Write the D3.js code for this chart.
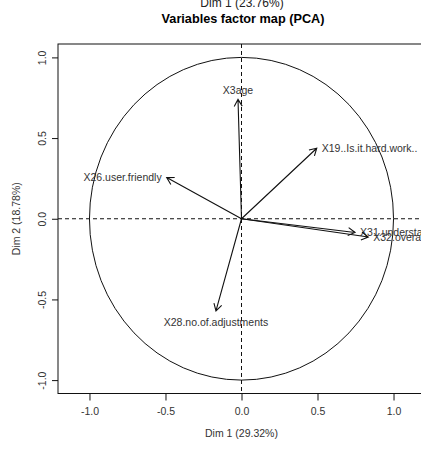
<!DOCTYPE html>
<html><head><meta charset="utf-8">
<script src="https://cdn.jsdelivr.net/npm/d3@7"></script>
<style>body{margin:0;background:#fff;} svg{display:block;font-family:"Liberation Sans",Arial,sans-serif;}</style>
</head><body>
<svg id="c" width="421" height="450"></svg>
<script>
const variables = ["X3age","X19..Is.it.hard.work..","X26.user.friendly","X28.no.of.adjustments","X31.understanding","X32.overall"];
const dim1 = [-0.023, 0.495, -0.492, -0.168, 0.747, 0.834];
const dim2 = [0.740, 0.437, 0.255, -0.571, -0.085, -0.113];
const tickValues = [-1.0, -0.5, 0.0, 0.5, 1.0];
const title = "Variables factor map (PCA)";
const topLabel = "Dim 1 (23.76%)";
const xLabel = "Dim 1 (29.32%)";
const yLabel = "Dim 2 (18.78%)";

const svg = d3.select("#c");
const x = d3.scaleLinear().domain([-1.207, 1.207]).range([58, 425]);
const y = d3.scaleLinear().domain([-1.083, 1.083]).range([393.5, 44]);
const ink = "#111";
const fmt = d => d.toFixed(1);

// clipped top text
svg.append("text").attr("x", 242).attr("y", 7).attr("text-anchor","middle")
  .attr("font-size", 12).attr("fill","#222").text(topLabel);
svg.append("text").attr("x", 243).attr("y", 23).attr("text-anchor","middle")
  .attr("font-size", 12.7).attr("font-weight","bold").attr("fill","#000").text(title);

// box
svg.append("rect").attr("x", x.range()[0]).attr("y", y.range()[1])
  .attr("width", x.range()[1]-x.range()[0]).attr("height", y.range()[0]-y.range()[1])
  .attr("fill","none").attr("stroke", ink).attr("stroke-width",1);

// axes
const xa = svg.append("g").attr("transform",`translate(0,${y.range()[0]})`)
  .call(d3.axisBottom(x).tickValues(tickValues).tickFormat(fmt).tickSize(7).tickPadding(7));
const ya = svg.append("g").attr("transform",`translate(${x.range()[0]},0)`)
  .call(d3.axisLeft(y).tickValues(tickValues).tickFormat(fmt).tickSize(6).tickPadding(0));
[xa, ya].forEach(a => {
  a.select(".domain").remove();
  a.selectAll("line").attr("stroke", ink);
  a.selectAll("text").attr("font-size", 10.5).attr("fill","#333").attr("font-family","Liberation Sans, Arial, sans-serif");
});
ya.selectAll("text").attr("text-anchor","middle").attr("dy", null)
  .attr("x", 0).attr("y", -12).attr("transform", "rotate(-90)");

svg.append("text").attr("x", 241.5).attr("y", 437).attr("text-anchor","middle")
  .attr("font-size", 10.5).attr("fill","#333").text(xLabel);
svg.append("text").attr("transform",`translate(20,${y(0)}) rotate(-90)`).attr("text-anchor","middle")
  .attr("font-size", 10.5).attr("fill","#333").text(yLabel);

// dashed center lines
svg.append("line").attr("x1", x.range()[0]).attr("x2", x.range()[1]).attr("y1", y(0)).attr("y2", y(0))
  .attr("stroke", ink).attr("stroke-dasharray","4,3");
svg.append("line").attr("x1", x(0)).attr("x2", x(0)).attr("y1", y.range()[1]).attr("y2", y.range()[0])
  .attr("stroke", ink).attr("stroke-dasharray","4,3");

// circle
svg.append("ellipse").attr("cx", x(0)).attr("cy", y(0))
  .attr("rx", x(1)-x(0)).attr("ry", y(0)-y(1))
  .attr("fill","none").attr("stroke", ink).attr("stroke-width",1);

// arrows
const data = variables.map((v,i)=>({name:v, d1:dim1[i], d2:dim2[i]}));
const head = 8, ang = Math.PI/6;
const g = svg.append("g");
data.forEach(d => {
  const x0 = x(0), y0 = y(0), x1 = x(d.d1), y1 = y(d.d2);
  const th = Math.atan2(y1-y0, x1-x0);
  const p = d3.path();
  p.moveTo(x0,y0); p.lineTo(x1,y1);
  p.moveTo(x1 - head*Math.cos(th-ang), y1 - head*Math.sin(th-ang));
  p.lineTo(x1,y1);
  p.lineTo(x1 - head*Math.cos(th+ang), y1 - head*Math.sin(th+ang));
  g.append("path").attr("d", p.toString()).attr("fill","none").attr("stroke", ink).attr("stroke-width",1.1);
  let tx = x1, ty = y1, anchor = "middle";
  const off = 5;
  if (Math.abs(d.d1) >= Math.abs(d.d2)) {
    if (d.d1 >= 0) { tx = x1 + off; anchor = "start"; } else { tx = x1 - off; anchor = "end"; }
  } else {
    if (d.d2 >= 0) { ty = y1 - off - 4; } else { ty = y1 + off + 6; }
  }
  g.append("text").attr("x", tx).attr("y", ty).attr("dy", "0.35em").attr("text-anchor", anchor)
    .attr("font-size", 10.5).attr("fill","#333").text(d.name);
});
</script>
</body></html>
